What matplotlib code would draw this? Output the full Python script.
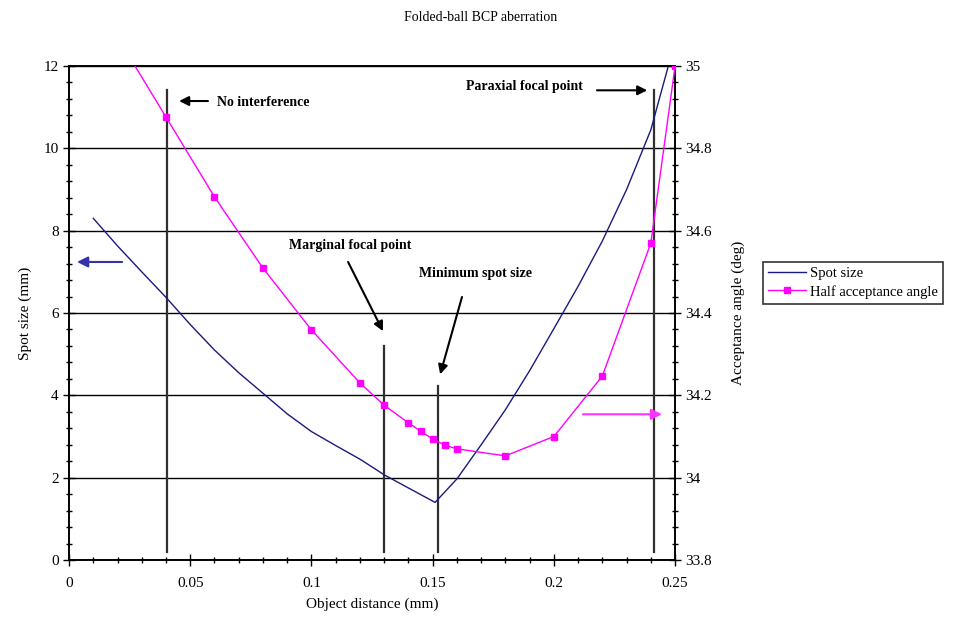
import matplotlib
matplotlib.use("Agg")
import matplotlib.pyplot as plt
from matplotlib.ticker import MultipleLocator

plt.rcParams["font.family"] = ["Liberation Serif", "DejaVu Serif"]

# spot size (left axis)
spot_x = [0.01, 0.02, 0.03, 0.04, 0.05, 0.06, 0.07, 0.08, 0.09, 0.10, 0.11, 0.12,
          0.13, 0.14, 0.151, 0.16, 0.17, 0.18, 0.19, 0.20, 0.21, 0.22, 0.23, 0.24, 0.25]
spot_y = [8.3, 7.63, 7.0, 6.38, 5.72, 5.1, 4.55, 4.05, 3.55, 3.12, 2.78, 2.45,
          2.07, 1.75, 1.4, 1.97, 2.8, 3.65, 4.6, 5.62, 6.65, 7.75, 9.0, 10.45, 12.6]

# half acceptance angle (right axis)
angle_x = [0.02, 0.04, 0.06, 0.08, 0.10, 0.12, 0.13, 0.14, 0.145, 0.15, 0.155,
           0.16, 0.18, 0.20, 0.22, 0.24, 0.25]
angle_y = [35.07, 34.876, 34.682, 34.509, 34.359, 34.23, 34.176, 34.133, 34.113,
           34.094, 34.079, 34.07, 34.053, 34.10, 34.247, 34.57, 35.0]

# marker lines (x, top on left axis)
vline_x = [0.0404, 0.130, 0.1522, 0.2413]
vline_top = [11.41, 5.2, 4.22, 11.41]

fig = plt.figure(figsize=(9.55, 6.33), dpi=100)
ax = fig.add_axes([0.0723, 0.1153, 0.6346, 0.7804])
ax2 = ax.twinx()

ax.set_xlim(0, 0.25)
ax.set_ylim(0, 12)
ax2.set_ylim(33.8, 35)

ax.xaxis.set_minor_locator(MultipleLocator(0.01))
ax.yaxis.set_major_locator(MultipleLocator(2))
ax.yaxis.set_minor_locator(MultipleLocator(0.4))
ax2.yaxis.set_minor_locator(MultipleLocator(0.04))
ax.set_xticks([0, 0.05, 0.1, 0.15, 0.2, 0.25])
ax.set_xticklabels(["0", "0.05", "0.1", "0.15", "0.2", "0.25"])
ax2.set_yticks([33.8, 34, 34.2, 34.4, 34.6, 34.8, 35])
ax2.set_yticklabels(["33.8", "34", "34.2", "34.4", "34.6", "34.8", "35"])

for a in (ax, ax2):
    a.tick_params(which="major", direction="inout", length=8, width=1, labelsize=11, colors="black")
    a.tick_params(which="minor", direction="inout", length=5, width=1)
    for s in a.spines.values():
        s.set_linewidth(1.2)
ax.tick_params(axis="x", pad=8)

ax.grid(axis="y", which="major", color="black", linewidth=1)
ax.set_axisbelow(True)

for xv, top in zip(vline_x, vline_top):
    ax.plot([xv, xv], [0.2, top], color="#303030", linewidth=1.6, zorder=2)

l1, = ax.plot(spot_x, spot_y, color="#1a1a80", linewidth=1, label="Spot size", zorder=3)
l2, = ax2.plot(angle_x, angle_y, color="#ff00ff", linewidth=1, marker="s", markersize=5,
               label="Half acceptance angle", zorder=3)

ax.set_xlabel("Object distance (mm)", fontsize=11, labelpad=6)
ax.set_ylabel("Spot size (mm)", fontsize=11, labelpad=8)
ax2.set_ylabel("Acceptance angle (deg)", fontsize=11, labelpad=14)
fig.text(0.503, 0.972, "Folded-ball BCP aberration", ha="center", va="center", fontsize=10)

arrow = dict(arrowstyle="-|>", color="black", lw=1.5, mutation_scale=14, shrinkA=0, shrinkB=0)
ax.annotate("", xy=(0.0454, 11.15), xytext=(0.0573, 11.15), arrowprops=arrow)
ax.text(0.0611, 11.12, "No interference", fontsize=10, fontweight="bold", va="center", ha="left")

ax.annotate("", xy=(0.1295, 5.56), xytext=(0.1151, 7.24), arrowprops=arrow)
ax.text(0.1159, 7.63, "Marginal focal point", fontsize=10, fontweight="bold", va="center", ha="center")

ax.annotate("", xy=(0.1531, 4.51), xytext=(0.1621, 6.39), arrowprops=arrow)
ax.text(0.1675, 6.95, "Minimum spot size", fontsize=10, fontweight="bold", va="center", ha="center")

ax.annotate("", xy=(0.2385, 11.41), xytext=(0.2178, 11.41), arrowprops=arrow)
ax.text(0.212, 11.51, "Paraxial focal point", fontsize=10, fontweight="bold", va="center", ha="right")

ax.annotate("", xy=(0.0033, 7.24), xytext=(0.0219, 7.24),
            arrowprops=dict(arrowstyle="-|>", color="#3333aa", lw=1.5, mutation_scale=16,
                            shrinkA=0, shrinkB=0))
ax.annotate("", xy=(0.2446, 3.54), xytext=(0.212, 3.54),
            arrowprops=dict(arrowstyle="-|>", color="#ff33ff", lw=1.5, mutation_scale=16,
                            shrinkA=0, shrinkB=0))

leg = fig.legend(handles=[l1, l2], loc="upper left", bbox_to_anchor=(0.799, 0.586),
                 fontsize=10.5, frameon=True, fancybox=False, edgecolor="black",
                 borderpad=0.35, handlelength=2.6, handletextpad=0.3, labelspacing=0.3,
                 borderaxespad=0)
leg.get_frame().set_linewidth(1.2)

fig.savefig("out.png", dpi=100)
